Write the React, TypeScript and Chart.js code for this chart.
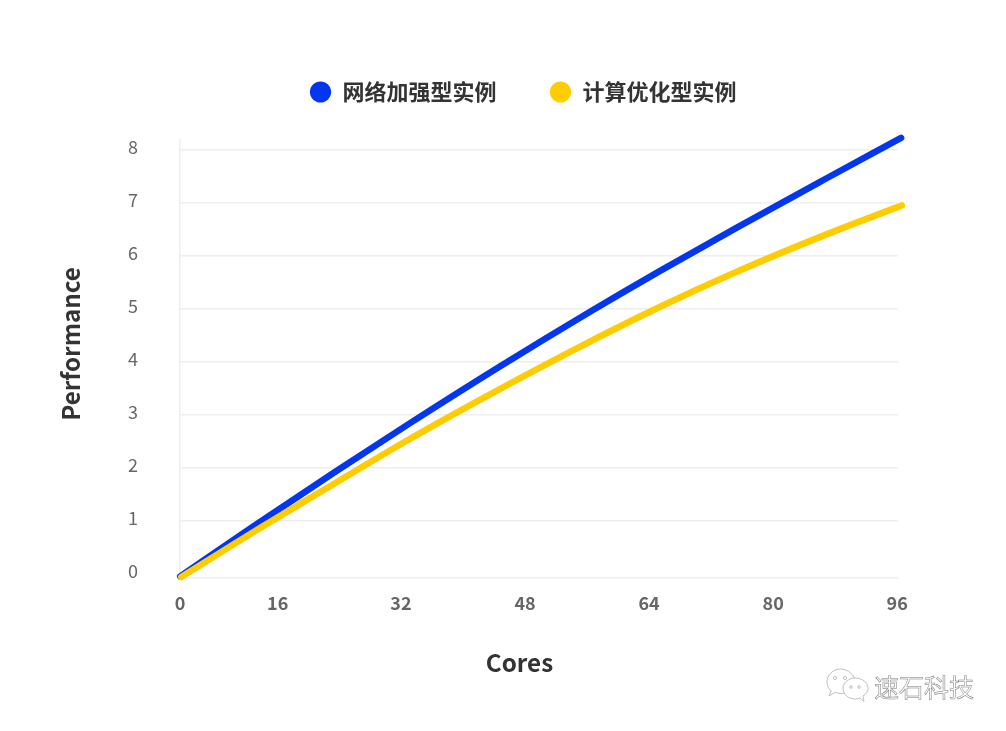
import React, { useEffect, useRef } from "react";
import { Chart, registerables } from "chart.js";

Chart.register(...registerables);

const FONT = '"Noto Sans CJK SC", "Noto Sans", sans-serif';

const seriesNames = ["网络加强型实例", "计算优化型实例"];
const seriesColors = ["#0336f0", "#ffcc00"];
const xAxisTitle = "Cores";
const yAxisTitle = "Performance";
const watermark = "速石科技";

const xTickValues = [3.5, 16.1, 32, 48, 64, 80, 96];
const xTickLabels = ["0", "16", "32", "48", "64", "80", "96"];
const yTickValues = [0, 1, 2, 3, 4, 5, 6, 7, 8];
const gridValues = [-0.075, 1, 2, 3, 4, 5, 6, 7, 8];

const networkX = [3.53, 13.09, 23.43, 33.12, 44.75, 56.76, 65.42, 75.37, 86.48, 96.5];
const networkY = [-0.047, 0.911, 1.921, 2.842, 3.915, 4.981, 5.721, 6.541, 7.434, 8.23];
const computeX = [3.66, 13.09, 23.43, 33.12, 43.07, 54.18, 65.42, 75.37, 86.48, 96.6];
const computeY = [-0.057, 0.802, 1.708, 2.547, 3.357, 4.221, 5.042, 5.708, 6.385, 6.955];

const zip = (xs: number[], ys: number[]) => xs.map((x, i) => ({ x, y: ys[i] }));

const legendTweak = {
  id: "legendTweak",
  beforeLayout(chart: any) {
    const legend = chart.legend;
    if (!legend || legend.__tweaked) return;
    legend.__tweaked = true;
    const fit = legend.fit;
    legend.fit = function () {
      fit.call(this);
      this.height = 112;
    };
    const draw = legend.draw;
    legend.draw = function () {
      const ctx = this.ctx;
      ctx.save();
      ctx.translate(74, 0);
      draw.call(this);
      ctx.restore();
    };
  },
};

function shiftTitle(scale: any, dx: number, dy: number) {
  if (scale.__shifted) return;
  scale.__shifted = true;
  const drawTitle = scale.drawTitle;
  scale.drawTitle = function () {
    const ctx = this.ctx;
    ctx.save();
    ctx.translate(dx, dy);
    drawTitle.call(this);
    ctx.restore();
  };
}

export default function App() {
  const ref = useRef<HTMLCanvasElement>(null);
  useEffect(() => {
    document.body.style.margin = "0";
    const chart = new Chart(ref.current as HTMLCanvasElement, {
      type: "line",
      plugins: [legendTweak],
      data: {
        datasets: [
          { label: seriesNames[0], data: zip(networkX, networkY), order: 1, yAxisID: "y2", borderColor: seriesColors[0], backgroundColor: seriesColors[0] },
          { label: seriesNames[1], data: zip(computeX, computeY), order: 0, yAxisID: "y2", borderColor: seriesColors[1], backgroundColor: seriesColors[1] },
        ].map((d) => ({
          ...d,
          borderWidth: 6.5,
          borderCapStyle: "round" as const,
          borderJoinStyle: "round" as const,
          pointRadius: 0,
          pointStyle: "circle",
          cubicInterpolationMode: "monotone" as const,
          clip: false as any,
        })),
      },
      options: {
        animation: false,
        responsive: false,
        devicePixelRatio: 1,
        layout: { padding: { top: 28, left: 0, right: 108, bottom: 0 } },
        plugins: {
          tooltip: { enabled: false },
          legend: {
            position: "top",
            labels: {
              usePointStyle: true,
              boxWidth: 22,
              boxHeight: 15,
              padding: 53,
              color: "#333333",
              font: { family: FONT, size: 22, weight: 700 as any },
              sort: (a: any, b: any) => a.datasetIndex - b.datasetIndex,
              generateLabels: (c: any) =>
                (Chart.defaults.plugins.legend.labels as any).generateLabels(c).map((l: any) => ({ ...l, lineWidth: 0 })),
            },
          },
        },
        scales: {
          x: {
            type: "linear",
            min: 3.5,
            max: 96.1,
            afterBuildTicks: (s: any) => {
              s.ticks = xTickValues.map((value) => ({ value }));
            },
            afterFit: (s: any) => {
              s.height = 153;
              shiftTitle(s, -19.5, 0);
            },
            grid: { display: false },
            border: { display: false },
            ticks: {
              autoSkip: false,
              maxRotation: 0,
              padding: 6,
              color: "#666666",
              font: { family: FONT, size: 18, weight: 700 as any },
              callback: (_v: any, i: number) => xTickLabels[i],
            },
            title: {
              display: true,
              text: xAxisTitle,
              color: "#333333",
              padding: { top: 0, bottom: 54 },
              font: { family: FONT, size: 24.2, weight: 700 as any },
            },
          },
          y: {
            type: "linear",
            position: "left",
            weight: 1,
            min: -0.132,
            max: 8.132,
            afterBuildTicks: (s: any) => {
              s.ticks = yTickValues.map((value) => ({ value }));
            },
            afterFit: (s: any) => {
              s.width = 180;
              shiftTitle(s, 0, -15);
            },
            grid: { display: false, drawTicks: false },
            border: { display: false },
            ticks: {
              padding: 42,
              color: "#666666",
              font: { family: FONT, size: 18, weight: 400 as any },
              callback: (_v: any, i: number) => String(yTickValues[i]),
            },
            title: {
              display: true,
              text: yAxisTitle,
              color: "#333333",
              padding: { top: 56, bottom: 0 },
              font: { family: FONT, size: 24.2, weight: 700 as any },
            },
          },
          y2: {
            type: "linear",
            position: "left",
            weight: 0,
            min: -0.075,
            max: 8.189,
            afterBuildTicks: (s: any) => {
              s.ticks = gridValues.map((value) => ({ value }));
            },
            afterFit: (s: any) => {
              s.width = 0;
            },
            grid: { color: "#eeeeee", lineWidth: 1.5, drawTicks: false },
            border: { display: true, color: "#eeeeee", width: 1.5 },
            ticks: { display: false },
          },
        },
      },
    } as any);
    return () => chart.destroy();
  }, []);

  return (
    <div style={{ position: "absolute", left: 0, top: 0, width: 1006, height: 731, background: "#fff" }}>
      <canvas ref={ref} width={1006} height={731} style={{ display: "block" }} />
      <svg width={50} height={40} viewBox="0 0 50 40" style={{ position: "absolute", left: 822, top: 665 }} fill="#fff" stroke="#b0b0b0" strokeWidth={0.8}>
        <path d="M 9 26 L 7 31 L 13 27.5 C 24 31 33 25 33 17 C 33 10 26 4 18.5 4 C 11 4 5 10 5 17 C 5 20.5 6.5 24 9 26 Z" />
        <circle cx={13} cy={13} r={1.6} />
        <circle cx={23} cy={13} r={1.6} />
        <path d="M 38 33 L 42 36.5 L 41 31 C 44 29 46 26.5 46 23.5 C 46 18 40.5 13 33.5 13 C 26.5 13 21 18 21 23.5 C 21 29.5 26.5 34 33.5 34 C 35 34 36.5 33.7 38 33 Z" />
        <circle cx={29} cy={22} r={1.3} />
        <circle cx={37} cy={22} r={1.3} />
      </svg>
      <div
        style={{
          position: "absolute",
          left: 874,
          top: 668,
          fontFamily: FONT,
          fontSize: 25,
          lineHeight: "36px",
          color: "#ffffff",
          WebkitTextStroke: "0.5px #777777",
          whiteSpace: "nowrap",
        }}
      >
        {watermark}
      </div>
    </div>
  );
}
